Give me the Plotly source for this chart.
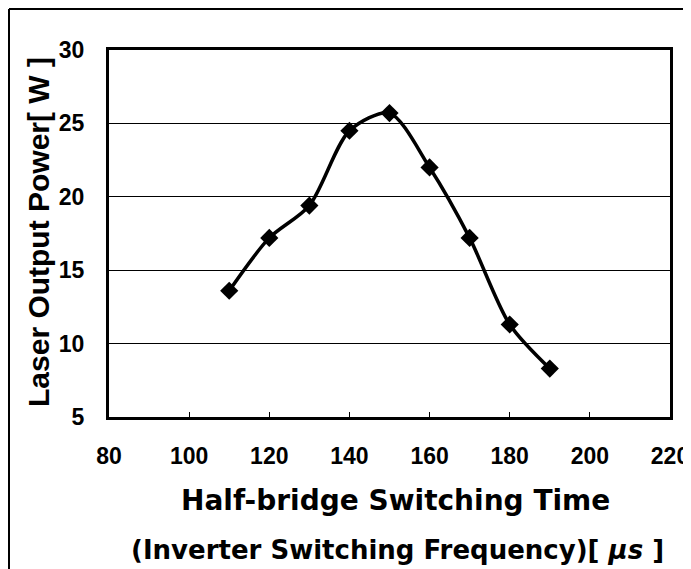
import plotly.graph_objects as go

switching_time = [110, 120, 130, 140, 150, 160, 170, 180, 190]
output_power = [13.6, 17.2, 19.4, 24.5, 25.7, 22.0, 17.2, 11.3, 8.3]

x_ticks = [80, 100, 120, 140, 160, 180, 200, 220]
y_ticks = [5, 10, 15, 20, 25, 30]

# page body has an 8px margin, so the figure is drawn 8px smaller and offset
OFF = 8
W, H = 691 - OFF, 569 - OFF
L, T = 109 - OFF, 50 - OFF
R = W - (670 - OFF)
B = H - (417 - OFF)
pw, ph = W - L - R, H - T - B

def px(xs):
    return (xs - OFF - L) / pw

def py(ys):
    return (H - B - (ys - OFF)) / ph

tick_font = "Liberation Sans, Arial, sans-serif"
title_font = "DejaVu Sans, sans-serif"

fig = go.Figure()
fig.add_trace(go.Scatter(
    x=switching_time, y=output_power,
    mode="lines+markers",
    line=dict(color="black", width=3.5, shape="spline", smoothing=0.8),
    marker=dict(symbol="diamond", size=14, color="black"),
    showlegend=False,
))

fig.update_layout(
    width=W, height=H,
    margin=dict(l=L, r=R, t=T, b=B, autoexpand=False),
    paper_bgcolor="white", plot_bgcolor="white",
    xaxis=dict(
        range=[80, 220], tickvals=x_ticks, ticktext=[str(v) for v in x_ticks],
        automargin=False,
        showgrid=False, zeroline=False,
        showline=True, linecolor="black", linewidth=3, mirror=True,
        ticks="inside", ticklen=5, tickcolor="black", tickwidth=1,
        tickfont=dict(family=tick_font, size=23, color="black", weight="bold"),
        ticklabelstandoff=16,
    ),
    yaxis=dict(
        range=[5, 30], tickvals=y_ticks, ticktext=[str(v) for v in y_ticks],
        automargin=False,
        showgrid=True, gridcolor="black", gridwidth=1, zeroline=False,
        showline=True, linecolor="black", linewidth=3, mirror=True,
        ticks="",
        tickfont=dict(family=tick_font, size=23, color="black", weight="bold"),
        ticklabelstandoff=17,
    ),
    annotations=[
        dict(text="Laser Output Power[ W ]", xref="paper", yref="paper",
             x=px(38), y=py(232), xanchor="center", yanchor="middle",
             textangle=-90, showarrow=False,
             font=dict(family=tick_font, size=30, color="black", weight="bold")),
        dict(text="Half-bridge Switching Time", xref="paper", yref="paper",
             x=px(395), y=py(500), xanchor="center", yanchor="middle",
             showarrow=False,
             font=dict(family=title_font, size=28, color="black", weight="bold")),
        dict(text="(Inverter Switching Frequency)[ <i>μs</i> ]", xref="paper", yref="paper",
             x=px(397), y=py(550), xanchor="center", yanchor="middle",
             showarrow=False,
             font=dict(family=title_font, size=26, color="black", weight="bold")),
    ],
    shapes=[
        dict(type="line", xref="paper", yref="paper",
             x0=px(OFF + 1), x1=px(720), y0=py(OFF + 1), y1=py(OFF + 1),
             line=dict(color="black", width=2)),
        dict(type="line", xref="paper", yref="paper",
             x0=px(OFF + 1), x1=px(OFF + 1), y0=py(OFF + 1), y1=py(600),
             line=dict(color="black", width=2)),
    ],
)

fig.write_html("out.html")
